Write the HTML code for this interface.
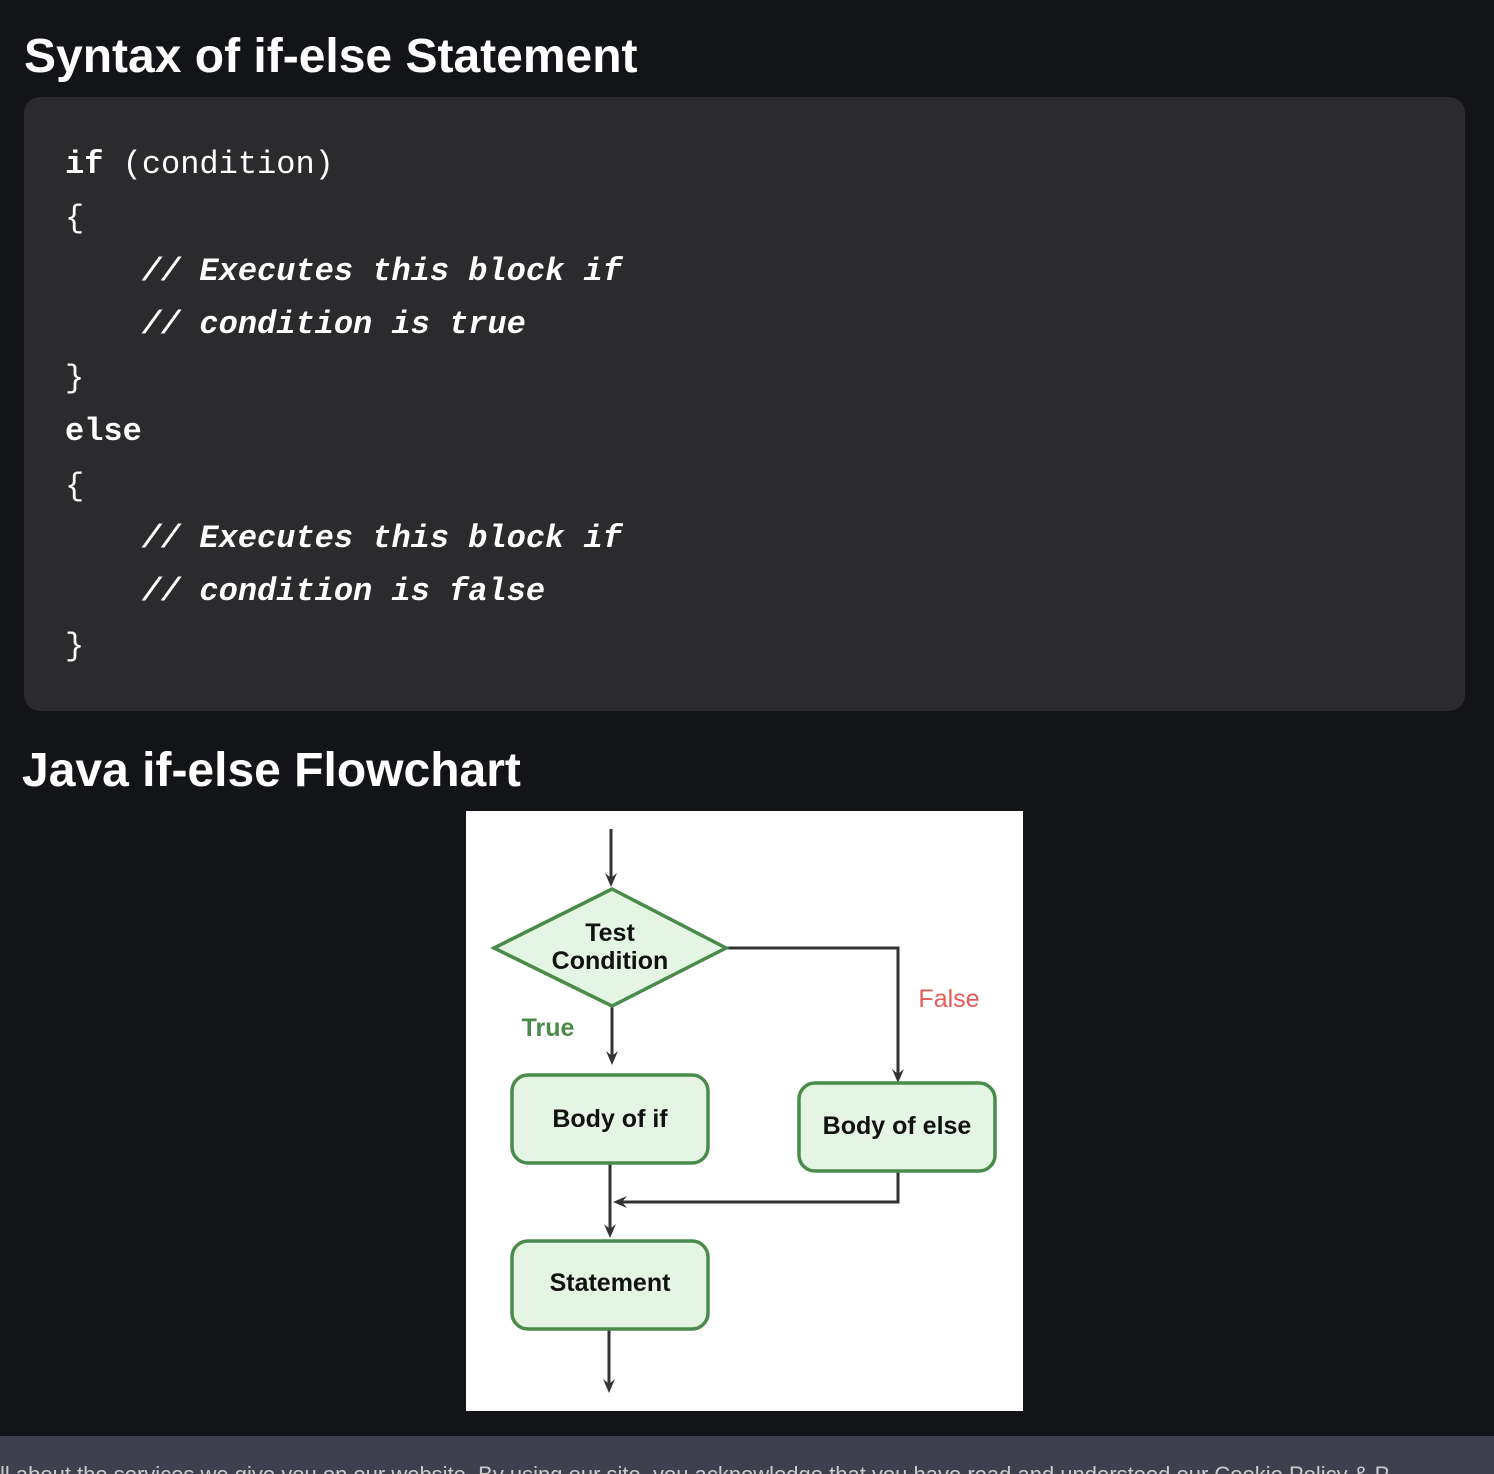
<!DOCTYPE html>
<html><head><style>
body{margin:0;width:1494px;height:1474px;background:#131417;overflow:hidden;position:relative;font-family:"Liberation Sans",sans-serif;}
h2{position:absolute;margin:0;color:#fff;font-weight:bold;font-size:48px;white-space:nowrap;}
.code{position:absolute;left:24px;top:97px;width:1441px;height:614px;background:#2b2b2e;border-radius:16px;}
.ln{position:absolute;left:65px;font-family:"Liberation Mono",monospace;font-size:32px;color:#fff;white-space:pre;line-height:36px;}
.b{font-weight:bold}.i{font-style:italic;font-weight:bold}
.foot{position:absolute;left:0;top:1436px;width:1494px;height:38px;background:#3e404d;color:#ccc;font-size:22px;white-space:nowrap;overflow:hidden;}
</style></head><body>
<h2 style="left:24px;top:29px">Syntax of if-else Statement</h2>
<div class="code"></div>
<div class="ln b" style="top:147px">if <span style="font-weight:normal">(condition)</span></div>
<div class="ln" style="top:201px">{</div>
<div class="ln i" style="top:254px">    // Executes this block if</div>
<div class="ln i" style="top:307px">    // condition is true</div>
<div class="ln" style="top:361px">}</div>
<div class="ln b" style="top:414px">else</div>
<div class="ln" style="top:469px">{</div>
<div class="ln i" style="top:521px">    // Executes this block if</div>
<div class="ln i" style="top:574px">    // condition is false</div>
<div class="ln" style="top:629px">}</div>
<h2 style="left:22px;top:743px">Java if-else Flowchart</h2>
<svg style="position:absolute;left:466px;top:811px" width="557" height="600" viewBox="0 0 557 600">
<rect width="557" height="600" fill="#fff"/>
<g stroke="#333" stroke-width="3" fill="none">
<line x1="145" y1="18" x2="145" y2="70"/>
<line x1="146" y1="196" x2="146" y2="248"/>
<polyline points="260,137 432,137 432,266"/>
<line x1="144" y1="352" x2="144" y2="421"/>
<polyline points="432,360 432,391 155,391"/>
<line x1="143" y1="518" x2="143" y2="576"/>
</g>
<g fill="#333">
<path d="M139,62 L145,76 L151,62 L145,67z"/>
<path d="M140,240 L146,254 L152,240 L146,245z"/>
<path d="M426,258 L432,272 L438,258 L432,263z"/>
<path d="M138,413 L144,427 L150,413 L144,418z"/>
<path d="M161,385 L147,391 L161,397 L156,391z"/>
<path d="M137,568 L143,582 L149,568 L143,573z"/>
</g>
<g fill="#e5f5e3" stroke="#4a8b4c" stroke-width="3.5">
<polygon points="146,78 260,137 146,195 28,137"/>
<rect x="46" y="264" width="196" height="88" rx="16"/>
<rect x="333" y="272" width="196" height="88" rx="16"/>
<rect x="46" y="430" width="196" height="88" rx="16"/>
</g>
<g font-family="Liberation Sans,sans-serif" font-size="25" font-weight="bold" text-anchor="middle" fill="#111">
<text x="144" y="130">Test</text>
<text x="144" y="158">Condition</text>
<text x="144" y="316">Body of if</text>
<text x="431" y="323">Body of else</text>
<text x="144" y="480">Statement</text>
<text x="82" y="225" fill="#4a8b4c">True</text>
<text x="483" y="196" fill="#e65a5a" font-weight="normal">False</text>
</g>
</svg>
<div class="foot"><div style="position:relative;top:26px">ll about the services we give you on our website. By using our site, you acknowledge that you have read and understood our Cookie Policy &amp; P</div></div>
</body></html>
